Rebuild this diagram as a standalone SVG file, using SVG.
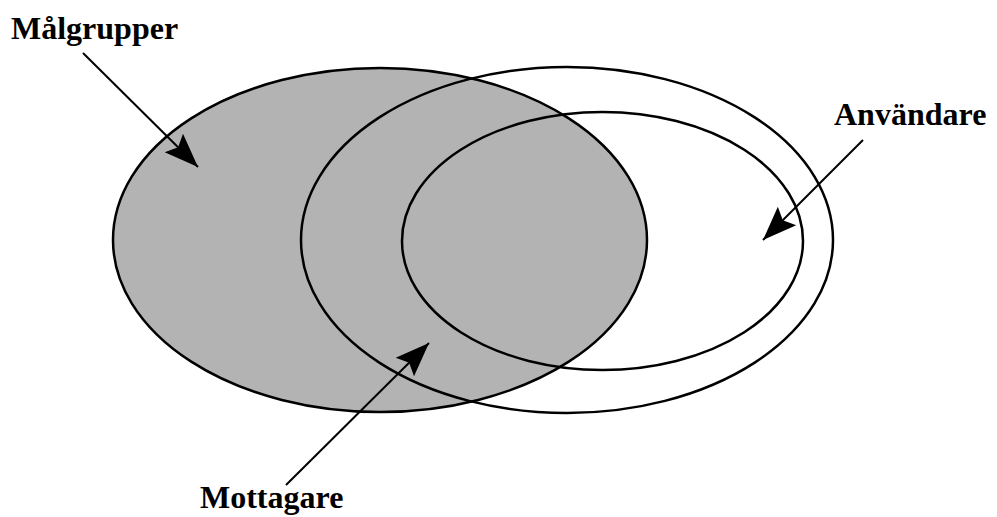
<svg xmlns="http://www.w3.org/2000/svg" width="997" height="517" viewBox="0 0 997 517">
<defs>
<style>
.set{stroke:#000;stroke-width:2.5}
.lbl{font-family:"Liberation Serif","Times New Roman",serif;font-weight:bold;font-size:32px;fill:#000}
.arr{stroke:#000;stroke-width:2;fill:none;marker-end:url(#head)}
</style>
<marker id="head" markerUnits="userSpaceOnUse" markerWidth="36" markerHeight="28" viewBox="0 0 36 28" refX="34" refY="14" orient="auto">
<path d="M0,1 L34,14 L0,27 L6,14 Z" fill="#000"/>
</marker>
</defs>
<rect width="997" height="517" fill="#fff"/>
<g id="malgrupper">
<ellipse class="set" cx="380" cy="240" rx="267" ry="172" fill="#b3b3b3"/>
<text class="lbl" x="11" y="39">Målgrupper</text>
</g>
<g id="mottagare">
<ellipse class="set" cx="567" cy="240" rx="266" ry="173" fill="none"/>
<text class="lbl" x="200" y="508">Mottagare</text>
</g>
<g id="anvandare">
<ellipse class="set" cx="602.5" cy="241" rx="200.5" ry="129" fill="none"/>
<text class="lbl" x="834" y="125">Användare</text>
</g>
<g id="connectors">
<line class="arr" x1="83" y1="53" x2="198" y2="167"/>
<line class="arr" x1="863" y1="140" x2="763" y2="240"/>
<line class="arr" x1="286" y1="485" x2="429" y2="343"/>
</g>
</svg>
